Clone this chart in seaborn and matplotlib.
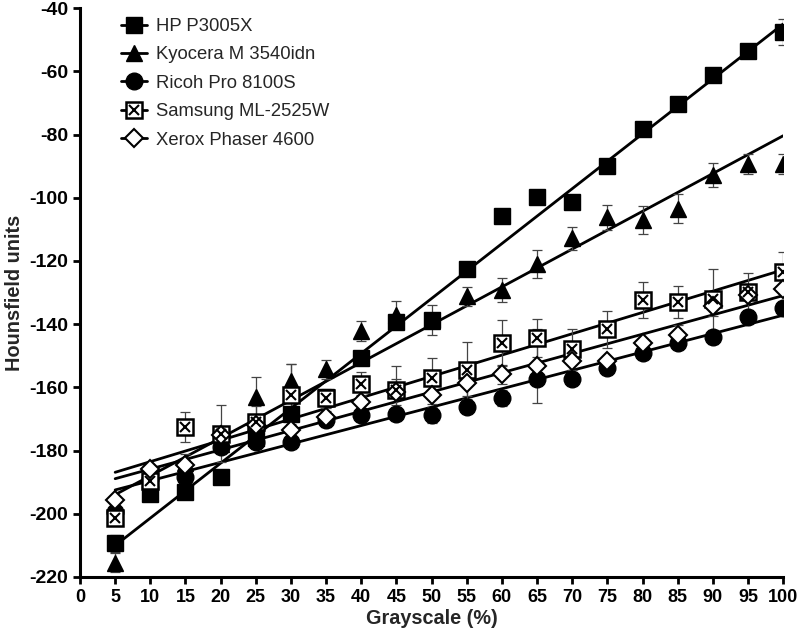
import numpy as np
import pandas as pd
import matplotlib
matplotlib.use("Agg")
import matplotlib.pyplot as plt
import seaborn as sns
from matplotlib.lines import Line2D

grayscale = [5, 10, 15, 20, 25, 30, 35, 40, 45, 50, 55, 60, 65, 70, 75, 80, 85, 90, 95, 100]

hp = [-209.4, -193.6, -193.0, -188.3, -176.0, -168.3, -163.2, -150.7, -139.3, -138.7,
      -122.5, -105.8, -99.7, -101.4, -90.0, -78.1, -70.2, -61.2, -53.5, -47.5]
hp_err = [2.8, 1.0, 1.5, 2.0, 1.0, 1.0, 1.0, 1.0, 1.0, 4.7,
          2.0, 0.5, 0.5, 0.5, 1.0, 0.5, 1.5, 1.0, 0.5, 4.0]

kyocera = [-215.5, -190.0, -184.0, -178.0, -162.9, -157.9, -154.3, -142.2, -137.2, -139.0,
           -131.2, -129.1, -120.9, -112.8, -106.2, -107.0, -103.4, -92.8, -89.4, -89.4]
kyocera_err = [3.0, 1.0, 3.0, 1.0, 6.1, 5.3, 3.0, 3.2, 4.4, 2.0,
               3.0, 3.8, 4.4, 3.7, 4.0, 4.5, 4.5, 3.7, 3.2, 3.2]

ricoh = [-199.4, -189.0, -188.3, -178.8, -177.2, -177.2, -170.4, -168.8, -168.3, -168.8,
         -166.3, -163.3, -157.2, -157.5, -153.8, -149.0, -145.9, -144.2, -137.7, -135.0]
ricoh_err = [1.0, 1.0, 1.5, 2.0, 1.0, 1.0, 2.0, 1.5, 1.0, 2.5,
             1.0, 2.5, 2.0, 1.5, 1.0, 1.5, 1.5, 2.0, 1.0, 1.0]

samsung = [-201.5, -189.5, -172.5, -174.6, -170.9, -162.5, -163.5, -158.8, -160.7, -157.1,
           -154.6, -145.9, -144.5, -148.0, -141.6, -132.3, -133.0, -132.1, -129.7, -123.4]
samsung_err = [1.0, 1.5, 4.7, 9.0, 5.0, 10.0, 3.0, 3.7, 7.4, 6.4,
               9.1, 7.2, 6.0, 6.6, 5.8, 5.6, 5.0, 9.7, 5.8, 6.3]

xerox = [-195.7, -185.7, -184.6, -175.0, -172.0, -173.5, -169.5, -164.6, -161.5, -162.4,
         -158.6, -155.9, -153.2, -151.7, -151.6, -145.8, -143.3, -134.3, -130.8, -128.9]
xerox_err = [1.0, 1.0, 1.5, 1.5, 2.0, 2.0, 2.0, 2.0, 4.0, 3.0,
             4.0, 3.0, 11.7, 4.0, 1.0, 1.0, 3.0, 3.0, 1.0, 1.0]

names = ["HP P3005X", "Kyocera M 3540idn", "Ricoh Pro 8100S", "Samsung ML-2525W", "Xerox Phaser 4600"]
values = [hp, kyocera, ricoh, samsung, xerox]
errors = [hp_err, kyocera_err, ricoh_err, samsung_err, xerox_err]

sns.set_theme(style="ticks")
plt.rcParams['font.family'] = ['Liberation Sans', 'DejaVu Sans']
plt.rcParams['axes.unicode_minus'] = False

fig = plt.figure(figsize=(8.0, 6.34), dpi=100)
ax = fig.add_axes([0.1, 0.09, 0.879, 0.897])

styles = [
    dict(marker='s', mfc='black', mec='black', ms=11),
    dict(marker='^', mfc='black', mec='black', ms=11),
    dict(marker='o', mfc='black', mec='black', ms=12),
    dict(marker='s', mfc='white', mec='black', ms=11.5, mew=1.8),
    dict(marker='D', mfc='white', mec='black', ms=9.5, mew=1.5),
]

for name, y, e, st in zip(names, values, errors, styles):
    df = pd.DataFrame({"x": grayscale, "y": y})
    sns.regplot(data=df, x="x", y="y", scatter=False, ci=None, truncate=True,
                color='black', line_kws=dict(lw=2.0, zorder=2), ax=ax)
    ax.errorbar(grayscale, y, yerr=e, fmt='none', ecolor='#444444', elinewidth=0.9,
                capsize=3.5, capthick=0.9, zorder=3)
    ax.plot(grayscale, y, linestyle='none', zorder=4, **st)
    if name.startswith("Samsung"):
        ax.plot(grayscale, y, linestyle='none', marker='x', color='black', ms=7.5, mew=1.5, zorder=5)

ax.set_xlim(0, 100)
ax.set_ylim(-220, -40)
ax.set_xticks(np.arange(0, 101, 5))
ax.set_yticks(np.arange(-220, -39, 20))
for sp in ['top', 'right']:
    ax.spines[sp].set_visible(False)
for sp in ['left', 'bottom']:
    ax.spines[sp].set_linewidth(2.2)
    ax.spines[sp].set_color('black')
ax.tick_params(axis='both', direction='out', length=5, width=2.0, colors='black')
ax.tick_params(axis='x', labelsize=13)
ax.tick_params(axis='y', labelsize=14)
for lab in ax.get_xticklabels() + ax.get_yticklabels():
    lab.set_fontweight('bold')
ax.set_xlabel("Grayscale (%)", fontsize=14.3, fontweight='bold', labelpad=2)
ax.set_ylabel("Hounsfield units", fontsize=14.3, fontweight='bold', labelpad=4)

handles = []
for i, st in enumerate(styles):
    h = Line2D([], [], color='black', lw=2.0, **st)
    if i == 3:
        hx = Line2D([], [], color='black', lw=0, marker='x', ms=7.5, mew=1.5)
        h = (h, hx)
    handles.append(h)
leg = ax.legend(handles, names, loc='upper left', bbox_to_anchor=(0.035, 1.012),
                frameon=False, fontsize=13.3, handlelength=1.4, labelspacing=0.62,
                handletextpad=0.5)

fig.savefig("out.png", dpi=100)
